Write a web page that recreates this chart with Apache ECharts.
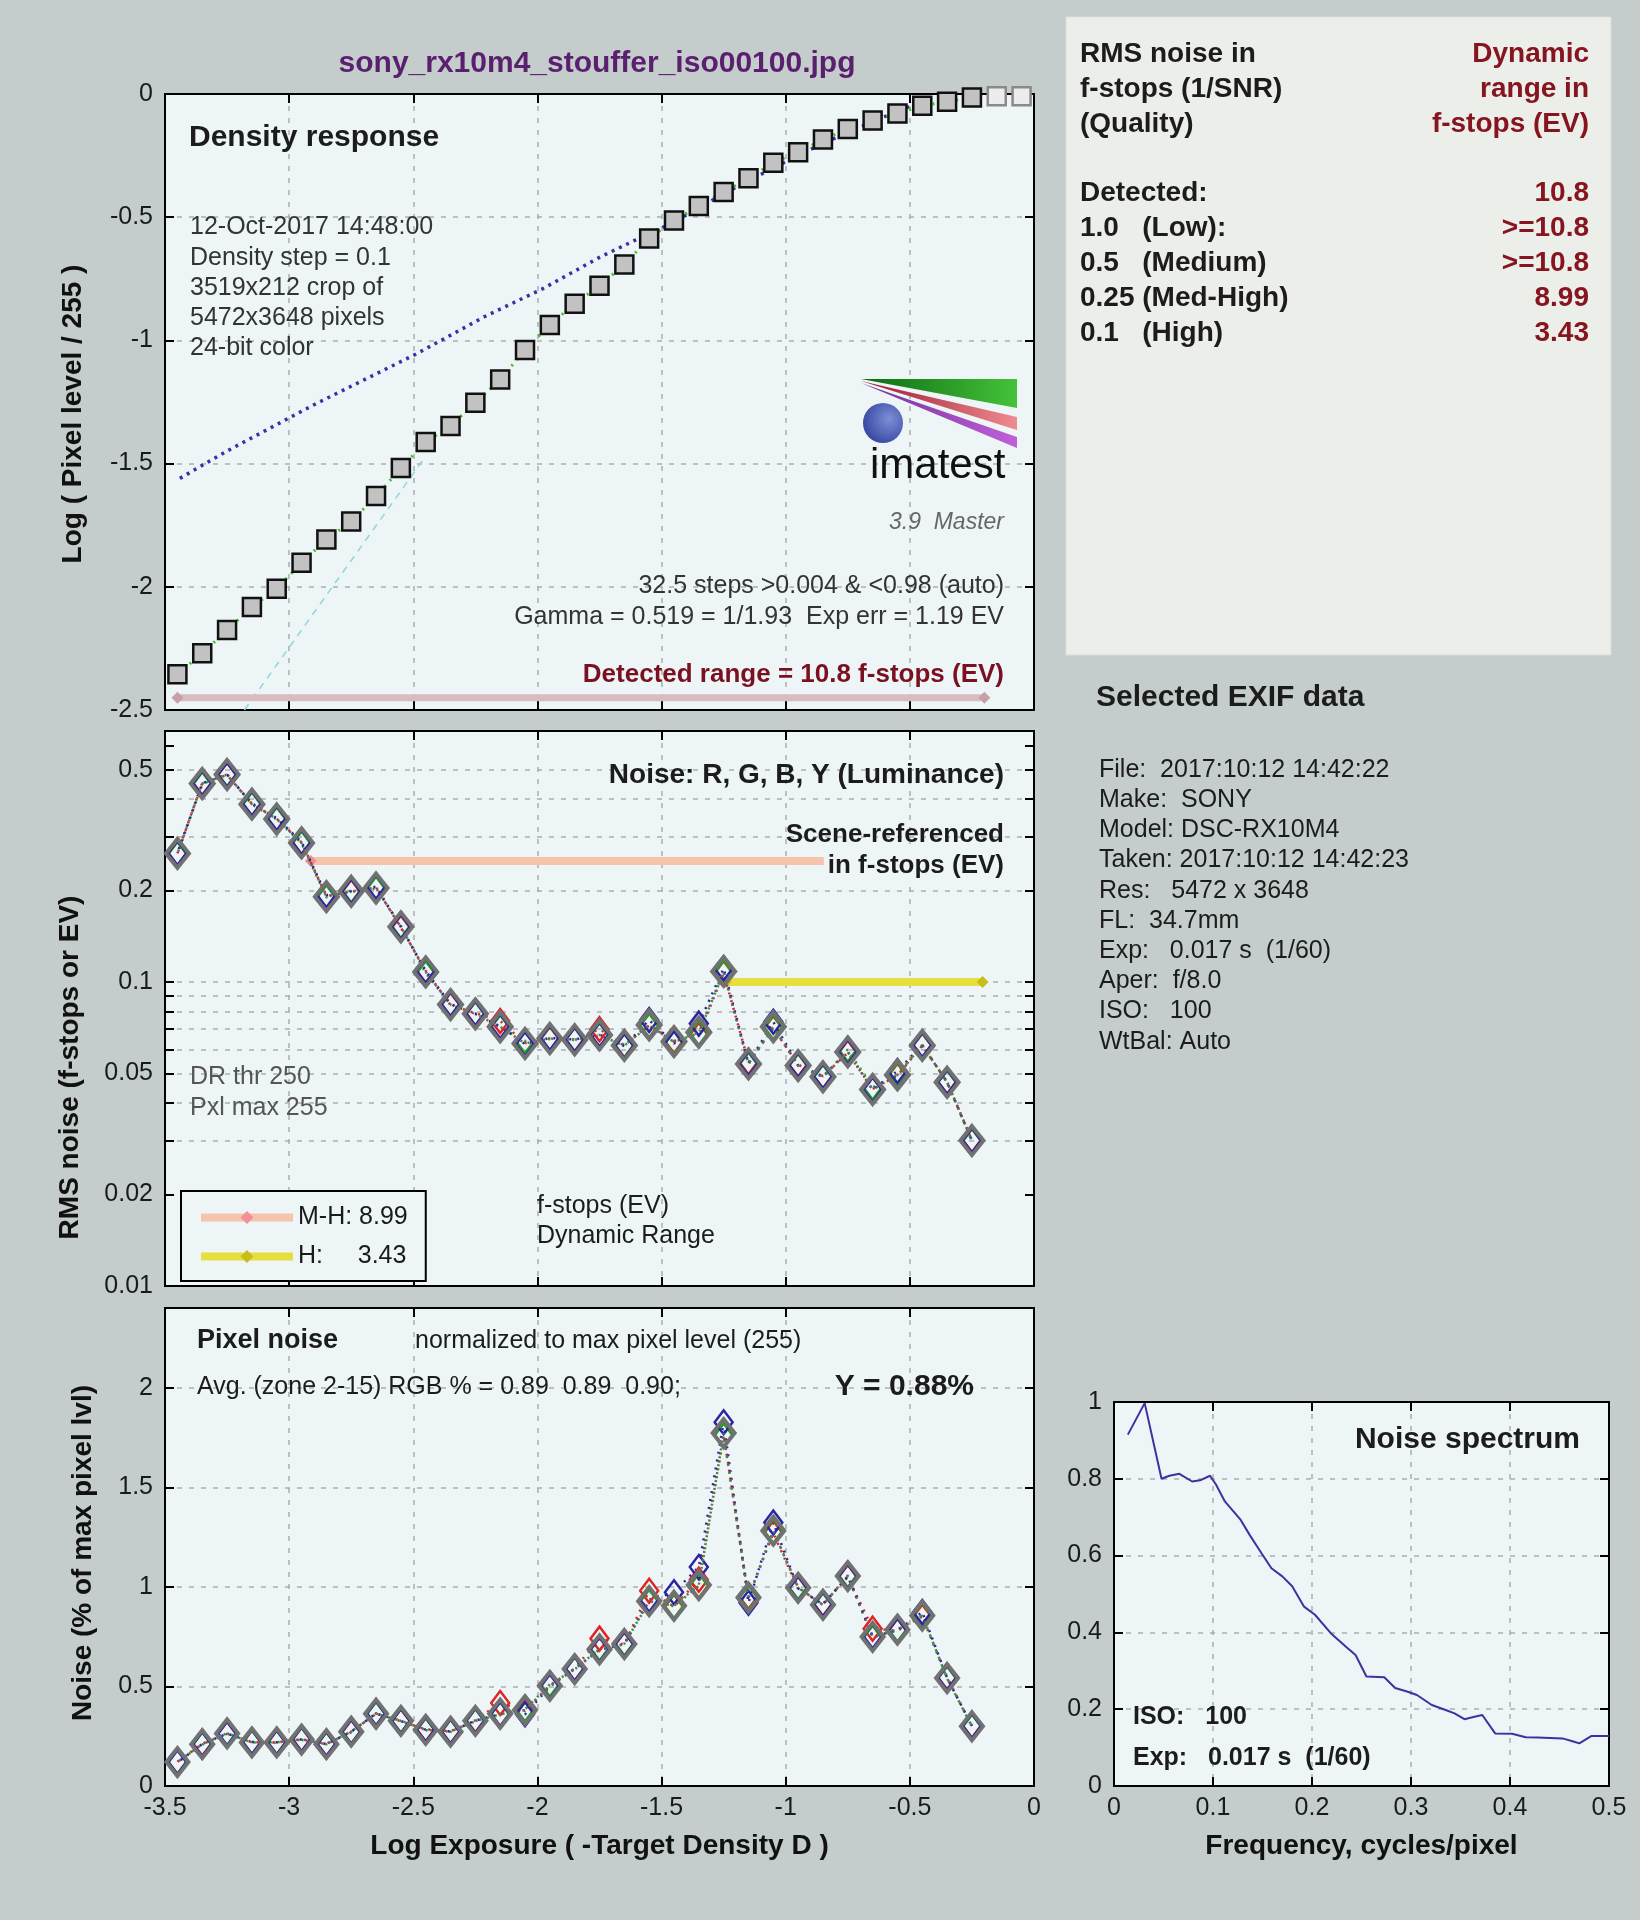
<!DOCTYPE html>
<html>
<head>
<meta charset="utf-8">
<title>sony_rx10m4_stouffer_iso00100.jpg</title>
<script src="https://cdn.jsdelivr.net/npm/echarts@6/dist/echarts.min.js"></script>
<style>
  html, body { margin: 0; padding: 0; background: #c5cccc; }
  #chart { width: 1640px; height: 1920px; }
</style>
</head>
<body>
<div id="chart"></div>
<script>
// step positions: log exposure (= -target density), 0.1 apart
const stepX = [-3.45, -3.35, -3.25, -3.15, -3.05, -2.95, -2.85, -2.75, -2.65, -2.55,
  -2.45, -2.35, -2.25, -2.15, -2.05, -1.95, -1.85, -1.75, -1.65, -1.55,
  -1.45, -1.35, -1.25, -1.15, -1.05, -0.95, -0.85, -0.75, -0.65, -0.55,
  -0.45, -0.35, -0.25, -0.15, -0.05]
// log(pixel level / 255) for every step; the last two are saturated
const densityLog = [-2.355, -2.270, -2.175, -2.082, -2.008, -1.902, -1.808, -1.735, -1.632, -1.518,
  -1.412, -1.347, -1.253, -1.159, -1.039, -0.937, -0.851, -0.778, -0.692, -0.586,
  -0.513, -0.455, -0.398, -0.342, -0.279, -0.236, -0.185, -0.142, -0.108, -0.079,
  -0.048, -0.031, -0.014, -0.009, -0.009]
const saturatedFrom = 33

// gamma fit (blue dots) and linear reference (cyan dashes)
const fitX = [-3.44, -3.25, -2.90, -2.49, -2.21, -1.98, -1.75, -1.61, -1.45, -1.25, -1.05, -0.85, -0.65, -0.50]
const fitY = [-1.560, -1.449, -1.261, -1.056, -0.902, -0.791, -0.663, -0.595, -0.520, -0.405, -0.300, -0.200, -0.112, -0.050]
const linX = [-3.18, -2.45]
const linY = [-2.50, -1.47]
const detectedRange = [-3.45, -0.20]
const detectedLevel = -2.45

// RMS noise in f-stops (33 unsaturated steps)
const noiseY = [0.265, 0.450, 0.482, 0.385, 0.344, 0.287, 0.191, 0.199, 0.204, 0.152,
  0.108, 0.0843, 0.0786, 0.0713, 0.0628, 0.0652, 0.0646, 0.0670, 0.0619, 0.0723,
  0.0637, 0.0684, 0.1084, 0.0538, 0.0713, 0.0531, 0.0488, 0.0589, 0.0443, 0.0495,
  0.0619, 0.0468, 0.0301]
const noiseR = [0.265, 0.452, 0.480, 0.386, 0.345, 0.288, 0.192, 0.198, 0.205, 0.151,
  0.109, 0.0840, 0.0790, 0.0745, 0.0630, 0.0650, 0.0648, 0.0700, 0.0620, 0.0720,
  0.0640, 0.0670, 0.1070, 0.0545, 0.0705, 0.0535, 0.0490, 0.0585, 0.0445, 0.0492,
  0.0618, 0.0470, 0.0302]
const noiseG = [0.264, 0.448, 0.483, 0.384, 0.343, 0.286, 0.190, 0.200, 0.203, 0.153,
  0.107, 0.0845, 0.0785, 0.0710, 0.0640, 0.0653, 0.0645, 0.0668, 0.0618, 0.0718,
  0.0635, 0.0680, 0.1075, 0.0536, 0.0710, 0.0530, 0.0487, 0.0600, 0.0450, 0.0496,
  0.0620, 0.0467, 0.0300]
const noiseB = [0.266, 0.451, 0.481, 0.387, 0.346, 0.289, 0.193, 0.199, 0.206, 0.152,
  0.109, 0.0846, 0.0788, 0.0715, 0.0625, 0.0655, 0.0647, 0.0672, 0.0616, 0.0750,
  0.0628, 0.0730, 0.1110, 0.0540, 0.0740, 0.0533, 0.0490, 0.0590, 0.0442, 0.0510,
  0.0621, 0.0469, 0.0301]
const noiseTicks = [0.01, 0.02, 0.05, 0.1, 0.2, 0.5]
const noiseGrid = [0.02, 0.03, 0.04, 0.05, 0.06, 0.07, 0.08, 0.09, 0.1, 0.2, 0.3, 0.4, 0.5, 0.6]
// dynamic range bars at the 0.25 (M-H) and 0.1 (H) noise levels
const mhRange = [-2.913, -0.207]
const hRange = [-1.243, -0.207]

// pixel noise, % of max pixel level
const pixY = [0.120, 0.210, 0.264, 0.219, 0.219, 0.233, 0.210, 0.273, 0.363, 0.327,
  0.282, 0.273, 0.327, 0.363, 0.381, 0.503, 0.587, 0.686, 0.713, 0.928,
  0.905, 1.009, 1.772, 0.946, 1.282, 0.995, 0.910, 1.054, 0.749, 0.785,
  0.856, 0.542, 0.300]
const pixR = [0.122, 0.212, 0.262, 0.220, 0.218, 0.235, 0.212, 0.270, 0.365, 0.325,
  0.285, 0.275, 0.330, 0.417, 0.378, 0.505, 0.590, 0.740, 0.710, 0.980,
  0.900, 1.036, 1.765, 0.950, 1.270, 0.990, 0.915, 1.050, 0.790, 0.780,
  0.850, 0.545, 0.302]
const pixG = [0.121, 0.208, 0.265, 0.218, 0.220, 0.232, 0.209, 0.274, 0.362, 0.328,
  0.280, 0.272, 0.326, 0.360, 0.385, 0.510, 0.585, 0.690, 0.715, 0.925,
  0.903, 1.005, 1.760, 0.945, 1.280, 0.998, 0.908, 1.058, 0.745, 0.786,
  0.858, 0.540, 0.299]
const pixB = [0.119, 0.211, 0.263, 0.221, 0.219, 0.234, 0.211, 0.272, 0.364, 0.326,
  0.283, 0.274, 0.328, 0.362, 0.360, 0.500, 0.588, 0.684, 0.712, 0.935,
  0.973, 1.100, 1.826, 0.920, 1.323, 0.992, 0.912, 1.052, 0.752, 0.780,
  0.874, 0.543, 0.301]

// noise spectrum
const specF = [0.014, 0.031, 0.048, 0.056, 0.066, 0.079, 0.087, 0.097, 0.103, 0.112,
  0.128, 0.137, 0.149, 0.159, 0.170, 0.180, 0.192, 0.203, 0.219, 0.234,
  0.244, 0.255, 0.273, 0.284, 0.296, 0.306, 0.321, 0.335, 0.344, 0.354,
  0.362, 0.372, 0.385, 0.402, 0.416, 0.428, 0.453, 0.464, 0.470, 0.482, 0.500]
const specA = [0.915, 0.997, 0.800, 0.808, 0.813, 0.793, 0.796, 0.808, 0.785, 0.741,
  0.693, 0.654, 0.606, 0.567, 0.546, 0.520, 0.467, 0.446, 0.398, 0.363,
  0.341, 0.285, 0.283, 0.255, 0.246, 0.237, 0.211, 0.198, 0.189, 0.174,
  0.179, 0.185, 0.137, 0.136, 0.127, 0.126, 0.124, 0.116, 0.111, 0.130, 0.130]

const FONT = '"Liberation Sans", Arial, Helvetica, sans-serif'
const PLOT_BG = '#eef5f7'

const pts = (xs, ys) => xs.map((x, i) => [x, ys[i]])
const noiseX = stepX.slice(0, noiseY.length)

const chart = echarts.init(document.getElementById('chart'))

const dash = { show: true, showMinLine: false, showMaxLine: false, lineStyle: { color: '#a9adaf', width: 1.5, type: [5, 7] } }
const tick = { show: true, inside: true, length: 9, lineStyle: { color: '#000', width: 2 } }
const line = { show: true, onZero: false, lineStyle: { color: '#000', width: 2 } }
const label = { color: '#1a1a1a', fontSize: 25, fontFamily: FONT }
const nameStyle = { color: '#111', fontSize: 28, fontWeight: 'bold', fontFamily: FONT }

function xAx(grid, min, max, interval, extra) {
  return Object.assign({
    type: 'value', gridIndex: grid, min: min, max: max, interval: interval,
    axisLine: line, axisTick: tick, splitLine: dash,
    axisLabel: { show: false }
  }, extra)
}
function mirror(axis, pos) {
  return Object.assign({}, axis, { position: pos, splitLine: { show: false }, axisLabel: { show: false }, name: '' })
}

const xTop = xAx(0, -3.5, 0, 0.5)
const xMid = xAx(1, -3.5, 0, 0.5)
const xBot = xAx(2, -3.5, 0, 0.5, {
  axisLabel: Object.assign({ margin: 10 }, label),
  name: 'Log Exposure ( -Target Density D )', nameLocation: 'middle', nameGap: 46, nameTextStyle: nameStyle
})
const xSpec = xAx(3, 0, 0.5, 0.1, {
  axisLabel: Object.assign({ margin: 10 }, label),
  name: 'Frequency, cycles/pixel', nameLocation: 'middle', nameGap: 46, nameTextStyle: nameStyle
})

const yTop = xAx(0, -2.5, 0, 0.5, {
  axisLabel: Object.assign({ margin: 12 }, label),
  name: 'Log ( Pixel level / 255 )', nameLocation: 'middle', nameGap: 78,
  nameTextStyle: Object.assign({ padding: [0, 24, 0, 0] }, nameStyle)
})
const yMid = {
  type: 'log', logBase: 10, gridIndex: 1, min: 0.01, max: 0.67,
  axisLine: line,
  axisTick: Object.assign({ customValues: noiseGrid }, tick),
  splitLine: dash,
  axisLabel: Object.assign({ margin: 12, customValues: noiseTicks, formatter: v => String(+(+v).toPrecision(2)) }, label),
  name: 'RMS noise (f-stops or EV)', nameLocation: 'middle', nameGap: 81,
  nameTextStyle: Object.assign({ padding: [0, 118, 0, 0] }, nameStyle)
}
const yBot = xAx(2, 0, 2.4, 0.5, {
  axisLabel: Object.assign({ margin: 12, showMaxLabel: false }, label),
  name: 'Noise (% of max pixel lvl)', nameLocation: 'middle', nameGap: 68,
  nameTextStyle: Object.assign({ padding: [0, 12, 0, 0] }, nameStyle)
})
const ySpec = xAx(3, 0, 1, 0.2, {
  axisLabel: Object.assign({ margin: 12 }, label)
})

function txt(x, y, s, o) {
  return {
    type: 'text', x: x, y: y, z: 100,
    style: Object.assign({ text: s, fill: '#1c1c1c', font: '25px ' + FONT, textAlign: 'left', textVerticalAlign: 'middle' }, o)
  }
}
const bold = n => 'bold ' + n + 'px ' + FONT
const RED = '#861520'

const infoLeft = ['RMS noise in', 'f-stops (1/SNR)', '(Quality)', 'Detected:', '1.0   (Low):', '0.5   (Medium)', '0.25 (Med-High)', '0.1   (High)']
const infoRight = ['Dynamic', 'range in', 'f-stops (EV)', '10.8', '>=10.8', '>=10.8', '8.99', '3.43']
const infoRows = [54, 89, 124, 193, 228, 263, 298, 333]
const exifLines = ['File:  2017:10:12 14:42:22', 'Make:  SONY', 'Model: DSC-RX10M4', 'Taken: 2017:10:12 14:42:23',
  'Res:   5472 x 3648', 'FL:  34.7mm', 'Exp:   0.017 s  (1/60)', 'Aper:  f/8.0', 'ISO:   100', 'WtBal: Auto']

const graphics = [
  txt(597, 64, 'sony_rx10m4_stouffer_iso00100.jpg', { font: bold(30), fill: '#5a1f6e', textAlign: 'center' }),
  // info box
  { type: 'rect', z: 90, shape: { x: 1066, y: 17, width: 545, height: 638 }, style: { fill: '#eceee9', stroke: '#dcdfdb', lineWidth: 1 } },
  // density plot notes
  txt(189, 138, 'Density response', { font: bold(30) }),
  txt(190, 227, '12-Oct-2017 14:48:00', { fill: '#333' }),
  txt(190, 258, 'Density step = 0.1', { fill: '#333' }),
  txt(190, 288, '3519x212 crop of', { fill: '#333' }),
  txt(190, 318, '5472x3648 pixels', { fill: '#333' }),
  txt(190, 348, '24-bit color', { fill: '#333' }),
  txt(1004, 586, '32.5 steps >0.004 & <0.98 (auto)', { textAlign: 'right', fill: '#333' }),
  txt(1004, 617, 'Gamma = 0.519 = 1/1.93  Exp err = 1.19 EV', { textAlign: 'right', fill: '#333' }),
  txt(1004, 675, 'Detected range = 10.8 f-stops (EV)', { textAlign: 'right', font: bold(26), fill: '#7a1020' }),
  // imatest logo
  { type: 'polygon', z: 95, shape: { points: [[861, 379], [1017, 379], [1017, 408]] },
    style: { fill: new echarts.graphic.LinearGradient(0, 0, 1, 0, [{ offset: 0, color: '#0b6a12' }, { offset: 1, color: '#45c23a' }]) } },
  { type: 'polygon', z: 95, shape: { points: [[861, 381], [1017, 417], [1017, 430]] },
    style: { fill: new echarts.graphic.LinearGradient(0, 0, 1, 0, [{ offset: 0, color: '#9a1a30' }, { offset: 1, color: '#f08a90' }]) } },
  { type: 'polygon', z: 95, shape: { points: [[861, 383], [1017, 437], [1017, 448]] },
    style: { fill: new echarts.graphic.LinearGradient(0, 0, 1, 0, [{ offset: 0, color: '#70309a' }, { offset: 1, color: '#c060d8' }]) } },
  { type: 'circle', z: 96, shape: { cx: 883, cy: 423, r: 20 },
    style: { fill: new echarts.graphic.RadialGradient(0.65, 0.4, 0.8, [{ offset: 0, color: '#7d8fd6' }, { offset: 1, color: '#2b3a9a' }]) } },
  txt(870, 466, 'imatest', { font: '42px ' + FONT, fill: '#111' }),
  txt(1004, 523, '3.9  Master', { font: 'italic 23px ' + FONT, fill: '#666', textAlign: 'right' }),
  // noise plot notes
  txt(1004, 775, 'Noise: R, G, B, Y (Luminance)', { textAlign: 'right', font: bold(28) }),
  txt(1004, 835, 'Scene-referenced', { textAlign: 'right', font: bold(26) }),
  txt(1004, 866, 'in f-stops (EV)', { textAlign: 'right', font: bold(26), backgroundColor: PLOT_BG, padding: [2, 0, 2, 4] }),
  txt(190, 1077, 'DR thr 250', { fill: '#555' }),
  txt(190, 1108, 'Pxl max 255', { fill: '#555' }),
  txt(537, 1206, 'f-stops (EV)'),
  txt(537, 1236, 'Dynamic Range'),
  // pixel noise notes
  txt(197, 1341, 'Pixel noise', { font: bold(27) }),
  txt(415, 1341, 'normalized to max pixel level (255)'),
  txt(197, 1387, 'Avg. (zone 2-15) RGB % = 0.89  0.89  0.90;'),
  txt(974, 1387, 'Y = 0.88%', { font: bold(30), textAlign: 'right' }),
  // spectrum notes
  txt(1580, 1440, 'Noise spectrum', { font: bold(30), textAlign: 'right' }),
  txt(1133, 1717, 'ISO:   100', { font: bold(25) }),
  txt(1133, 1758, 'Exp:   0.017 s  (1/60)', { font: bold(25) }),
  // EXIF block
  txt(1096, 698, 'Selected EXIF data', { font: bold(30) })
]
infoLeft.forEach((s, i) => graphics.push(txt(1080, infoRows[i], s, { font: bold(28) })))
infoRight.forEach((s, i) => graphics.push(txt(1589, infoRows[i], s, { font: bold(28), fill: RED, textAlign: 'right' })))
exifLines.forEach((s, i) => graphics.push(txt(1099, 770 + i * 30.2, s)))

const hollow = (c, w) => ({ color: 'rgba(0,0,0,0)', borderColor: c, borderWidth: w })

const option = {
  backgroundColor: '#c5cccc',
  animation: false,
  textStyle: { fontFamily: FONT },
  grid: [
    { left: 165, top: 94, width: 869, height: 616 },
    { left: 165, top: 731, width: 869, height: 555 },
    { left: 165, top: 1308, width: 869, height: 478 },
    { left: 1114, top: 1402, width: 495, height: 384 }
  ].map(g => Object.assign({ show: true, backgroundColor: PLOT_BG, borderColor: '#000', borderWidth: 2 }, g)),
  xAxis: [xTop, mirror(xTop, 'top'), xMid, mirror(xMid, 'top'), xBot, mirror(xBot, 'top'), xSpec, mirror(xSpec, 'top')],
  yAxis: [yTop, mirror(yTop, 'right'), yMid, mirror(yMid, 'right'), yBot, mirror(yBot, 'right'), ySpec, mirror(ySpec, 'right')],
  legend: {
    data: ['M-H: 8.99', 'H:     3.43'],
    left: 181, top: 1191, orient: 'vertical',
    itemWidth: 92, itemHeight: 16, itemGap: 14,
    padding: [14, 18, 12, 16],
    backgroundColor: PLOT_BG, borderColor: '#000', borderWidth: 2, borderRadius: 0,
    lineStyle: { width: 8 },
    textStyle: { fontSize: 25, color: '#1a1a1a', fontFamily: FONT },
    selectedMode: false
  },
  graphic: graphics,
  series: [
    // density response
    { type: 'line', xAxisIndex: 0, yAxisIndex: 0, data: pts(linX, linY), symbol: 'none', z: 2,
      lineStyle: { color: '#8fd5dc', width: 1.5, type: [7, 6] } },
    { type: 'line', xAxisIndex: 0, yAxisIndex: 0, data: pts(fitX, fitY), symbol: 'none', z: 3,
      lineStyle: { color: '#3b2fa6', width: 3.5, type: [3, 5] } },
    { type: 'line', xAxisIndex: 0, yAxisIndex: 0, data: detectedRange.map(x => [x, detectedLevel]), z: 3,
      symbol: 'diamond', symbolSize: 12, itemStyle: { color: '#c9a0a8' },
      lineStyle: { color: '#d9bcbf', width: 7 } },
    { type: 'line', xAxisIndex: 0, yAxisIndex: 0, z: 5,
      data: stepX.map((x, i) => i < saturatedFrom ? [x, densityLog[i]]
        : { value: [x, densityLog[i]], itemStyle: { color: '#ececec', borderColor: '#8a8a8a' } }),
      symbol: 'rect', symbolSize: 18,
      itemStyle: { color: '#c2c2c2', borderColor: '#111', borderWidth: 2.5 },
      lineStyle: { color: '#3ec41e', width: 3, type: [2, 6] } },
    // noise in f-stops
    { name: 'M-H: 8.99', type: 'line', xAxisIndex: 2, yAxisIndex: 2, data: mhRange.map(x => [x, 0.25]), z: 2,
      symbol: 'diamond', symbolSize: 12, itemStyle: { color: '#f0909a' },
      lineStyle: { color: '#f6c3ab', width: 8 } },
    { name: 'H:     3.43', type: 'line', xAxisIndex: 2, yAxisIndex: 2, data: hRange.map(x => [x, 0.1]), z: 2,
      symbol: 'diamond', symbolSize: 12, itemStyle: { color: '#c6be1e' },
      lineStyle: { color: '#e6df3e', width: 8 } },
    { type: 'line', xAxisIndex: 2, yAxisIndex: 2, data: pts(noiseX, noiseR), z: 3, symbol: 'diamond', symbolSize: [18, 24],
      itemStyle: hollow('#e02424', 2.5), lineStyle: { color: '#e02424', width: 2.5, type: [2, 6] } },
    { type: 'line', xAxisIndex: 2, yAxisIndex: 2, data: pts(noiseX, noiseG), z: 3, symbol: 'diamond', symbolSize: [18, 24],
      itemStyle: hollow('#22a022', 2.5), lineStyle: { color: '#22a022', width: 2.5, type: [2, 6], dashOffset: 2 } },
    { type: 'line', xAxisIndex: 2, yAxisIndex: 2, data: pts(noiseX, noiseB), z: 3, symbol: 'diamond', symbolSize: [18, 24],
      itemStyle: hollow('#2a24a0', 2.5), lineStyle: { color: '#2a24a0', width: 2.5, type: [2, 6], dashOffset: 4 } },
    { type: 'line', xAxisIndex: 2, yAxisIndex: 2, data: pts(noiseX, noiseY), z: 4, symbol: 'diamond', symbolSize: [23, 29],
      itemStyle: hollow('#717171', 4), lineStyle: { color: '#6a6a6a', width: 2.5, type: [2, 6], dashOffset: 6 } },
    // pixel noise
    { type: 'line', xAxisIndex: 4, yAxisIndex: 4, data: pts(noiseX, pixR), z: 3, symbol: 'diamond', symbolSize: [18, 24],
      itemStyle: hollow('#e02424', 2.5), lineStyle: { color: '#e02424', width: 2.5, type: [2, 6] } },
    { type: 'line', xAxisIndex: 4, yAxisIndex: 4, data: pts(noiseX, pixG), z: 3, symbol: 'diamond', symbolSize: [18, 24],
      itemStyle: hollow('#22a022', 2.5), lineStyle: { color: '#22a022', width: 2.5, type: [2, 6], dashOffset: 2 } },
    { type: 'line', xAxisIndex: 4, yAxisIndex: 4, data: pts(noiseX, pixB), z: 3, symbol: 'diamond', symbolSize: [18, 24],
      itemStyle: hollow('#2a24a0', 2.5), lineStyle: { color: '#2a24a0', width: 2.5, type: [2, 6], dashOffset: 4 } },
    { type: 'line', xAxisIndex: 4, yAxisIndex: 4, data: pts(noiseX, pixY), z: 4, symbol: 'diamond', symbolSize: [22, 28],
      itemStyle: hollow('#717171', 4), lineStyle: { color: '#6a6a6a', width: 2.5, type: [2, 6], dashOffset: 6 } },
    // noise spectrum
    { type: 'line', xAxisIndex: 6, yAxisIndex: 6, data: pts(specF, specA), symbol: 'none', z: 3,
      lineStyle: { color: '#4030a0', width: 2 } }
  ]
}

chart.setOption(option)
</script>
</body>
</html>
